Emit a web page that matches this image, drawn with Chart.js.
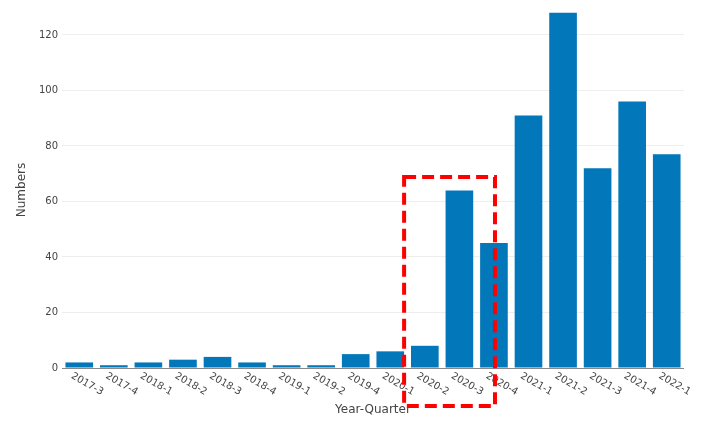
<!DOCTYPE html>
<html>
<head>
<meta charset="utf-8">
<script src="https://cdn.jsdelivr.net/npm/chart.js@4"></script>
<style>
    html, body { margin: 0; padding: 0; background: #fff; }
    #wrap { width: 707px; height: 428px; position: relative; }
</style>
</head>
<body>
<div id="wrap"><canvas id="chart"></canvas></div>
<script>
const quarters = [
    "2017-3", "2017-4", "2018-1", "2018-2", "2018-3", "2018-4",
    "2019-1", "2019-2", "2019-4", "2020-1", "2020-2", "2020-3",
    "2020-4", "2021-1", "2021-2", "2021-3", "2021-4", "2022-1"
];

const numbers = [
    2, 1, 2, 3, 4, 2,
    1, 1, 5, 6, 8, 64,
    45, 91, 128, 72, 96, 77
];

const yTicks = [0, 20, 40, 60, 80, 100, 120];

// highlight box, in category index / value units
const boxX = [9.4, 12.03];
const boxY = [-13.7, 68.8];

const tickFont = "10px 'DejaVu Sans'";
const titleFont = "12px 'DejaVu Sans'";
const textColor = "#444";

const overlay = {
    id: "overlay",
    afterDraw(chart) {
        const ctx = chart.ctx;
        const x = chart.scales.x;
        const y = chart.scales.y;

        // rotated quarter labels
        ctx.save();
        ctx.font = tickFont;
        ctx.fillStyle = textColor;
        ctx.textAlign = "left";
        ctx.textBaseline = "top";
        quarters.forEach((q, i) => {
            const px = x.getPixelForTick(i);
            ctx.save();
            ctx.translate(px - 5, y.bottom + 3);
            ctx.rotate(Math.PI / 6);
            ctx.fillText(q, 0, 0);
            ctx.restore();
        });
        ctx.restore();

        // axis titles
        ctx.save();
        ctx.font = titleFont;
        ctx.fillStyle = textColor;
        ctx.textAlign = "center";
        ctx.textBaseline = "middle";
        ctx.fillText("Year-Quarter", (x.left + x.right) / 2, 410);
        ctx.translate(22, 190);
        ctx.rotate(-Math.PI / 2);
        ctx.fillText("Numbers", 0, 0);
        ctx.restore();

        // red dashed box
        const l = x.getPixelForValue(boxX[0]);
        const r = x.getPixelForValue(boxX[1]);
        const t = y.getPixelForValue(boxY[1]);
        const b = y.getPixelForValue(boxY[0]);
        ctx.save();
        ctx.strokeStyle = "#ff0000";
        ctx.lineWidth = 4;
        ctx.setLineDash([12, 6]);
        ctx.strokeRect(l, t, r - l, b - t);
        ctx.restore();
    }
};

new Chart(document.getElementById("chart"), {
    type: "bar",
    data: {
        labels: quarters,
        datasets: [
            {
                label: "Numbers",
                data: numbers,
                backgroundColor: "#0277b9",
                borderWidth: 0,
                barPercentage: 0.8,
                categoryPercentage: 1.0
            }
        ]
    },
    options: {
        responsive: true,
        maintainAspectRatio: false,
        animation: false,
        layout: {
            padding: { left: 0, right: 23, top: 0, bottom: 0 }
        },
        plugins: {
            legend: { display: false },
            tooltip: { enabled: false }
        },
        scales: {
            x: {
                ticks: { display: false },
                grid: { display: false },
                border: { display: false },
                afterFit(scale) {
                    scale.height = 60;
                }
            },
            y: {
                min: 0,
                max: 129,
                afterBuildTicks(scale) {
                    scale.ticks = yTicks.map(v => ({ value: v }));
                },
                ticks: {
                    font: { family: "DejaVu Sans", size: 10 },
                    color: textColor,
                    padding: 4
                },
                grid: {
                    drawTicks: false,
                    color: ctx => ctx.tick && ctx.tick.value === 0 ? "#888" : "#eeeeee",
                    lineWidth: 1
                },
                border: { display: false },
                afterFit(scale) {
                    scale.width = 62;
                }
            }
        }
    },
    plugins: [overlay]
});
</script>
</body>
</html>
